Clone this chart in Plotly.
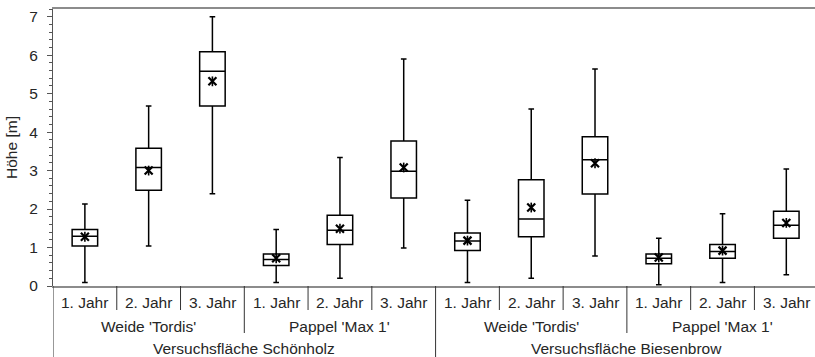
import plotly.graph_objects as go

# ---- data ----
years = ["1. Jahr", "2. Jahr", "3. Jahr"] * 4
groups = ["Weide 'Tordis'", "Pappel 'Max 1'", "Weide 'Tordis'", "Pappel 'Max 1'"]
sites = ["Versuchsfläche Schönholz", "Versuchsfläche Biesenbrow"]

q1 = [1.04, 2.49, 4.68, 0.53, 1.08, 2.29, 0.92, 1.28, 2.39, 0.58, 0.72, 1.24]
median = [1.29, 3.08, 5.58, 0.69, 1.45, 2.98, 1.17, 1.74, 3.28, 0.72, 0.90, 1.58]
q3 = [1.47, 3.58, 6.09, 0.83, 1.84, 3.77, 1.38, 2.76, 3.88, 0.83, 1.08, 1.94]
lower = [0.09, 1.04, 2.40, 0.09, 0.20, 0.99, 0.09, 0.20, 0.78, 0.03, 0.09, 0.29]
upper = [2.13, 4.68, 7.00, 1.47, 3.34, 5.90, 2.23, 4.60, 5.64, 1.24, 1.88, 3.04]
means = [1.28, 3.00, 5.32, 0.72, 1.49, 3.08, 1.18, 2.04, 3.19, 0.74, 0.92, 1.64]

FONT = "Liberation Sans, Arial, sans-serif"
FS = 15.5
TXT = "#262626"

pos = list(range(len(years)))

fig = go.Figure()
fig.add_trace(go.Box(
    x=pos, q1=q1, median=median, q3=q3, lowerfence=lower, upperfence=upper,
    width=0.4, whiskerwidth=0.22, fillcolor="white",
    line=dict(color="black", width=1.5), boxpoints=False, showlegend=False,
    hoverinfo="skip"))
fig.add_trace(go.Scatter(
    x=pos, y=means, mode="markers", showlegend=False, hoverinfo="skip",
    marker=dict(symbol="x-thin-open", size=8, color="black",
                line=dict(color="black", width=2.2))))
fig.add_trace(go.Scatter(
    x=pos, y=means, mode="markers", showlegend=False, hoverinfo="skip",
    marker=dict(symbol="line-ns-open", size=7, color="black",
                line=dict(color="black", width=1.6))))

annotations = []
shapes = []
# level 1: years
for i, t in enumerate(years):
    annotations.append(dict(x=i, y=0, xref="x", yref="paper", yshift=-16, text=t,
                            showarrow=False, yanchor="middle", xanchor="center",
                            font=dict(family=FONT, size=FS, color=TXT)))
# level 2: groups (3 years each)
for g, t in enumerate(groups):
    c = sum(pos[g * 3:(g + 1) * 3]) / 3
    annotations.append(dict(x=c, y=0, xref="x", yref="paper", yshift=-40.5, text=t,
                            showarrow=False, yanchor="middle", xanchor="center",
                            font=dict(family=FONT, size=FS, color=TXT)))
# level 3: sites (6 each)
for s, t in enumerate(sites):
    c = sum(pos[s * 6:(s + 1) * 6]) / 6
    annotations.append(dict(x=c, y=0, xref="x", yref="paper", yshift=-62, text=t,
                            showarrow=False, yanchor="middle", xanchor="center",
                            font=dict(family=FONT, size=FS, color=TXT)))

# separators
for b in range(len(years) + 1):
    xb = b - 0.5
    if b % 6 == 0:
        depth = 75
    elif b % 3 == 0:
        depth = 47
    else:
        depth = 24
    shapes.append(dict(type="line", xref="x", yref="paper", ysizemode="pixel", yanchor=0,
                       x0=xb, x1=xb, y0=0, y1=-depth,
                       line=dict(color="#333333", width=1)))

fig.update_layout(
    width=815, height=357,
    margin=dict(l=53, r=0, t=9, b=71),
    paper_bgcolor="white", plot_bgcolor="white",
    font=dict(family=FONT, size=FS, color=TXT),
    annotations=annotations, shapes=shapes,
    xaxis=dict(range=[-0.5, 11.45], showticklabels=False, ticks="", showgrid=False,
               zeroline=False, showline=True, linecolor="#8c8c8c", linewidth=2, mirror=True),
    yaxis=dict(range=[0, 7.2], dtick=1, tick0=0, ticks="outside", ticklen=5, tickwidth=1,
               tickcolor="#555555", showgrid=False, zeroline=False, showline=True,
               linecolor="#555555", linewidth=1, ticklabelstandoff=6,
               tickfont=dict(family=FONT, size=FS, color=TXT),
               minor=dict(dtick=0.2, ticks="outside", ticklen=3, tickcolor="#555555", showgrid=False),
               title=dict(text="Höhe [m]", standoff=7, font=dict(family=FONT, size=FS, color=TXT))),
)

fig.write_html(
    "out.html",
    config={"displayModeBar": False, "staticPlot": True},
    post_script=("document.documentElement.style.margin='0';"
                 "document.body.style.margin='0';"
                 "document.documentElement.style.overflow='hidden';"
                 "document.body.style.overflow='hidden';"))
